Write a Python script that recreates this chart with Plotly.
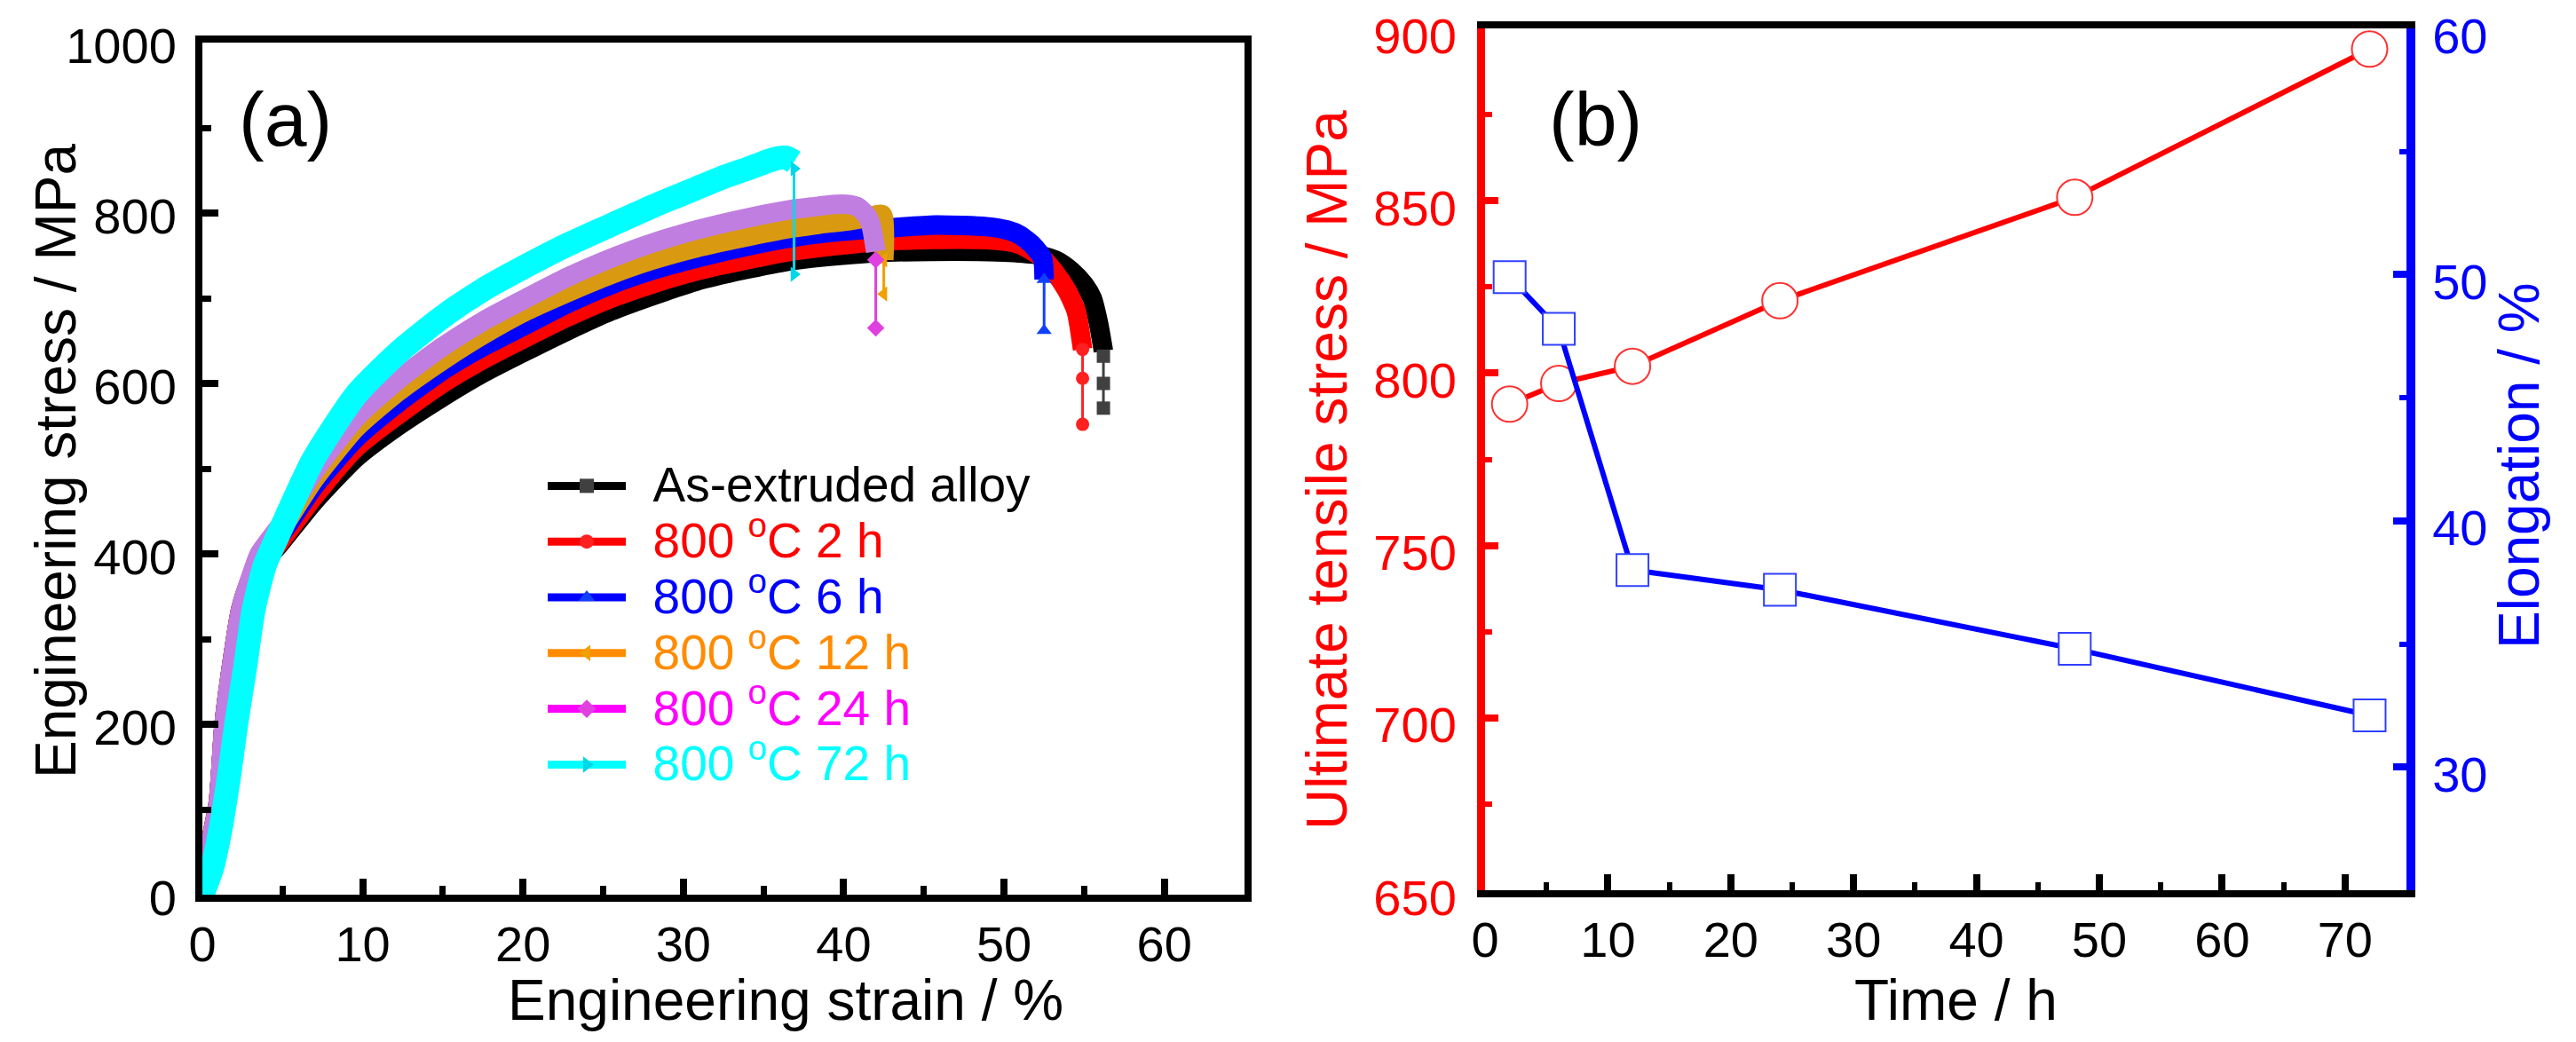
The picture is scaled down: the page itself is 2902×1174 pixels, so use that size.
import plotly.graph_objects as go

# (a) engineering stress-strain curves: strain in %, stress in MPa
strain_0h = [0, 0.2, 0.6, 1.0, 1.35, 1.8, 2.4, 2.85, 3.6, 4.8, 7.0, 9.6, 12.2, 14.9, 17.5, 20.2, 22.8, 25.5,
             28.1, 30.8, 33.7, 36.7, 39.6, 42.5, 45.5, 48.4, 50.3, 52.1, 53.3, 54.2, 55.0, 55.5, 55.9, 56.2]
stress_0h = [0, 21, 68, 108, 199, 265, 335, 360, 385, 411, 462, 513, 550, 583, 612, 638, 662, 685,
             703, 720, 733, 744, 750, 754, 755, 755, 754, 751, 744, 732, 716, 700, 670, 638]

strain_2h = [0, 0.2, 0.6, 1.0, 1.35, 1.8, 2.4, 2.85, 3.6, 4.8, 7.0, 9.6, 12.2, 14.9, 17.5, 20.2, 22.8, 25.5,
             28.1, 30.8, 33.7, 36.7, 39.6, 42.5, 45.5, 48.4, 50.0, 51.0, 52.2, 53.1, 53.9, 54.5, 54.9]
stress_2h = [0, 22, 70, 110, 200, 266, 336, 361, 387, 413, 468, 525, 563, 599, 628, 654, 678, 700,
             717, 732, 744, 755, 762, 767, 769, 769, 767, 763, 750, 732, 710, 685, 640]

strain_6h = [0, 0.2, 0.6, 1.0, 1.35, 1.8, 2.4, 2.85, 3.55, 4.8, 7.0, 9.6, 12.2, 14.9, 17.5, 20.2, 22.8, 25.5,
             28.1, 30.8, 33.7, 36.7, 39.6, 42.5, 45.7, 48.9, 50.2, 51.0, 51.8, 52.4, 52.5]
stress_6h = [0, 21, 68, 108, 199, 265, 335, 363, 394, 420, 480, 536, 577, 614, 643, 669, 694, 716,
             733, 747, 760, 771, 778, 782, 786, 784, 780, 774, 762, 747, 722]

strain_12h = [0, 0.2, 0.6, 1.0, 1.35, 1.8, 2.4, 2.85, 3.55, 4.8, 7.0, 9.6, 12.2, 14.9, 17.5, 20.2, 22.8, 25.5,
              28.1, 30.8, 33.7, 36.7, 38.5, 40.4, 41.5, 42.4, 42.5]
stress_12h = [0, 21, 68, 108, 199, 265, 335, 363, 396, 425, 488, 548, 590, 626, 657, 685, 707, 728,
              745, 759, 771, 782, 787, 791, 795, 798, 745]

strain_24h = [0, 0.2, 0.6, 1.0, 1.35, 1.8, 2.4, 2.85, 3.55, 4.8, 7.0, 9.6, 12.2, 14.9, 17.5, 20.2, 22.8, 25.5,
              28.1, 30.8, 33.7, 36.7, 38.0, 39.3, 40.3, 40.9, 41.4, 41.7, 42.0]
stress_24h = [0, 21, 68, 108, 199, 265, 335, 363, 400, 432, 497, 560, 604, 642, 673, 700, 725, 747,
              765, 780, 793, 804, 807, 810, 810, 807, 798, 786, 755]

strain_72h = [0, 0.6, 1.17, 1.7, 2.1, 2.65, 3.2, 3.9, 4.7, 6.9, 9.6, 12.2, 14.9, 17.5, 20.2, 22.8, 25.5,
              28.1, 30.8, 32.5, 34.0, 35.6, 36.4, 36.9]
stress_72h = [0, 31, 81, 144, 199, 265, 335, 387, 421, 510, 587, 636, 677, 710, 738, 763, 786,
              808, 829, 842, 852, 863, 865, 860]

# fracture drops at the end of each curve
tail_strain_0h = [56.2, 56.2, 56.2]
tail_stress_0h = [632, 600, 571]
tail_strain_2h = [54.9, 54.9, 54.9]
tail_stress_2h = [640, 606, 552]
tail_strain_6h = [52.5, 52.5]
tail_stress_6h = [722, 662]
tail_strain_12h = [42.5, 42.5]
tail_stress_12h = [745, 705]
tail_strain_24h = [42.0, 42.0]
tail_stress_24h = [745, 665]
tail_strain_72h = [36.9, 36.9]
tail_stress_72h = [852, 728]

# (b) strength and elongation against ageing time
time_h = [2, 6, 12, 24, 48, 72]
uts_mpa = [791, 797, 802, 821, 851, 894]
elong_pct = [49.9, 47.8, 38.0, 37.2, 34.8, 32.1]

FONT = "Liberation Sans, Arial, Helvetica, sans-serif"
W, H = 2886, 1158
OFF = 8  # default body margin of the page


def px(x):
    return (x - OFF) / W


def py(y):
    return 1 - (y - OFF) / H


# curve data, name, band colour, legend colour, marker colour, symbol
series = [
    (strain_0h, stress_0h, tail_strain_0h, tail_stress_0h, "As-extruded alloy", "#000000", "#000000", "#404040", "square"),
    (strain_2h, stress_2h, tail_strain_2h, tail_stress_2h, "800 <sup>o</sup>C 2 h", "#FF0000", "#FF0000", "#FF2020", "circle"),
    (strain_6h, stress_6h, tail_strain_6h, tail_stress_6h, "800 <sup>o</sup>C 6 h", "#0000FF", "#0000FF", "#1040FF", "triangle-up"),
    (strain_12h, stress_12h, tail_strain_12h, tail_stress_12h, "800 <sup>o</sup>C 12 h", "#D99A12", "#FF8C00", "#F0A000", "triangle-left"),
    (strain_24h, stress_24h, tail_strain_24h, tail_stress_24h, "800 <sup>o</sup>C 24 h", "#C07EE0", "#FF00FF", "#E040E0", "diamond"),
    (strain_72h, stress_72h, tail_strain_72h, tail_stress_72h, "800 <sup>o</sup>C 72 h", "#00FFFF", "#00FFFF", "#00D8E8", "triangle-right"),
]

fig = go.Figure()

for sx, sy, tx, ty, name, band, leg, mk, sym in series:
    fig.add_trace(go.Scatter(
        x=sx, y=sy, mode="lines",
        line=dict(color=band, width=27 if name.endswith("72 h") else 22, shape="spline", smoothing=0.6),
        showlegend=False, hoverinfo="skip"))

for sx, sy, tx, ty, name, band, leg, mk, sym in series:
    fig.add_trace(go.Scatter(
        x=tx, y=ty, mode="lines+markers",
        line=dict(color=mk, width=3),
        marker=dict(symbol=sym, size=15, color=mk),
        showlegend=False, hoverinfo="skip"))

# legend keys (text drawn a bit larger than the legend row height)
for sx, sy, tx, ty, name, band, leg, mk, sym in series:
    fig.add_trace(go.Scatter(
        x=[None], y=[None], mode="lines+markers",
        line=dict(color=leg, width=9),
        marker=dict(symbol=sym, size=20, color=mk),
        name='\u00a0\u00a0<span style="color:%s;font-size:55px">%s</span>' % (leg, name)))

fig.add_trace(go.Scatter(
    x=time_h, y=uts_mpa, xaxis="x2", yaxis="y2", mode="lines+markers",
    line=dict(color="#FF0000", width=6),
    marker=dict(symbol="circle", size=40, color="white", line=dict(color="#FF3030", width=2)),
    cliponaxis=False, showlegend=False))

fig.add_trace(go.Scatter(
    x=time_h, y=elong_pct, xaxis="x2", yaxis="y3", mode="lines+markers",
    line=dict(color="#0000FF", width=6),
    marker=dict(symbol="square", size=36, color="white", line=dict(color="#3040FF", width=2)),
    cliponaxis=False, showlegend=False))


def axis(color, **kw):
    d = dict(showline=True, linecolor=color, showgrid=False, zeroline=False,
             ticks="inside", tickcolor=color, tickwidth=8, ticklen=18, automargin=False,
             ticklabeloverflow="allow",
             tickfont=dict(size=56, family=FONT, color=color))
    d.update(kw)
    return d


annotations = [
    dict(text="(a)", x=px(321), y=py(134), font=dict(size=86)),
    dict(text="(b)", x=px(1797), y=py(134), font=dict(size=86)),
    dict(text="Engineering stress / MPa", x=px(63), y=py(520), textangle=-90, font=dict(size=64)),
    dict(text="Engineering strain / %", x=px(885), y=py(1127), font=dict(size=64)),
    dict(text="Ultimate tensile stress / MPa", x=px(1495), y=py(530), textangle=-90,
         font=dict(size=64, color="#FF0000")),
    dict(text="Elongation / %", x=px(2838), y=py(525), textangle=-90, font=dict(size=64, color="#0000FF")),
    dict(text="Time / h", x=px(2203), y=py(1127), font=dict(size=64)),
]
for a in annotations:
    a.update(xref="paper", yref="paper", showarrow=False, xanchor="center", yanchor="middle")
    a["font"].setdefault("color", "black")
    a["font"]["family"] = FONT

fig.update_layout(
    width=W, height=H,
    margin=dict(l=0, r=0, t=0, b=0, autoexpand=False),
    paper_bgcolor="white", plot_bgcolor="white",
    font=dict(family=FONT, color="black"),
    xaxis=axis("black", domain=[px(228), px(1402)], range=[0, 65], dtick=10, tick0=0, anchor="y",
               linewidth=8, mirror=True, ticklabelstandoff=0,
               minor=dict(dtick=5, ticks="inside", ticklen=10, tickwidth=7, tickcolor="black")),
    yaxis=axis("black", domain=[py(1008), py(48)], range=[0, 1000], dtick=200, tick0=0, anchor="x",
               linewidth=8, mirror=True, ticklabelstandoff=10, ticklabelshift=3,
               minor=dict(dtick=100, ticks="inside", ticklen=10, tickwidth=7, tickcolor="black")),
    xaxis2=axis("black", domain=[px(1673), px(2711)], range=[0, 75], dtick=10, tick0=0, anchor="y2",
                linewidth=8, mirror=True, ticklabelstandoff=0,
                minor=dict(dtick=5, ticks="inside", ticklen=9, tickwidth=6, tickcolor="black")),
    yaxis2=axis("#FF0000", domain=[py(1003), py(32)], range=[650, 900], dtick=50, tick0=650, anchor="x2",
                linewidth=9, ticklen=15, ticklabelstandoff=12, ticklabelshift=8,
                minor=dict(dtick=25, ticks="inside", ticklen=8, tickwidth=6, tickcolor="#FF0000")),
    yaxis3=axis("#0000FF", range=[25, 60], dtick=10, tick0=0, anchor="x2", overlaying="y2", side="right",
                linewidth=10, ticklen=15, ticklabelstandoff=8, ticklabelshift=8,
                minor=dict(dtick=5, ticks="inside", ticklen=8, tickwidth=6, tickcolor="#0000FF")),
    legend=dict(x=px(612), y=py(511), xanchor="left", yanchor="top", bgcolor="rgba(0,0,0,0)",
                font=dict(size=46, family=FONT, color="black"), itemwidth=88, tracegroupgap=0),
    annotations=annotations,
    showlegend=True,
)

fig.write_html("out.html")
